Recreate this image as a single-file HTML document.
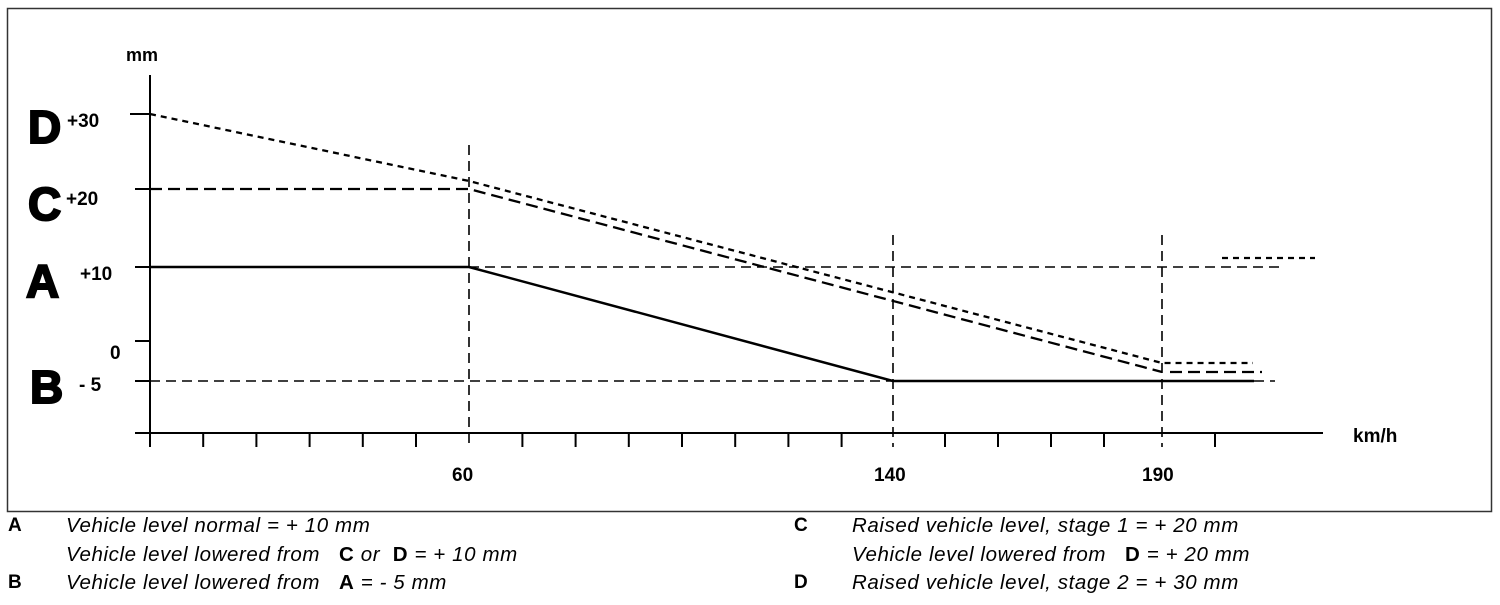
<!DOCTYPE html>
<html><head><meta charset="utf-8"><style>
body{margin:0;background:#fff;width:1500px;height:605px;overflow:hidden;font-family:"Liberation Sans",Arial,sans-serif;}
.lg{position:absolute;font-size:20.5px;letter-spacing:0.6px;color:#000;white-space:pre;}
.lg i{font-style:italic}
.k{position:absolute;font-size:19px;font-weight:bold;color:#000;}
</style></head><body>
<svg width="1500" height="605" style="position:absolute;left:0;top:0" font-family="Liberation Sans, Arial, sans-serif">
<rect x="7.5" y="8.5" width="1484" height="503" fill="none" stroke="#333" stroke-width="1.5"/>
<g stroke="#000" stroke-width="2" fill="none">
<line x1="150" y1="75" x2="150" y2="447"/>
<line x1="135" y1="433" x2="1323" y2="433"/>
<line x1="130" y1="114" x2="150" y2="114"/>
<line x1="135" y1="189" x2="150" y2="189"/>
<line x1="135" y1="267" x2="150" y2="267"/>
<line x1="135" y1="341" x2="150" y2="341"/>
<line x1="135" y1="381" x2="150" y2="381"/>
</g>
<g stroke="#000" stroke-width="2">
<line x1="203.2" y1="433" x2="203.2" y2="447"/><line x1="256.4" y1="433" x2="256.4" y2="447"/><line x1="309.6" y1="433" x2="309.6" y2="447"/><line x1="362.8" y1="433" x2="362.8" y2="447"/><line x1="416" y1="433" x2="416" y2="447"/><line x1="522.4" y1="433" x2="522.4" y2="447"/><line x1="575.6" y1="433" x2="575.6" y2="447"/><line x1="628.8" y1="433" x2="628.8" y2="447"/><line x1="682" y1="433" x2="682" y2="447"/><line x1="735.2" y1="433" x2="735.2" y2="447"/><line x1="788.4" y1="433" x2="788.4" y2="447"/><line x1="841.6" y1="433" x2="841.6" y2="447"/><line x1="945" y1="433" x2="945" y2="447"/><line x1="998" y1="433" x2="998" y2="447"/><line x1="1051" y1="433" x2="1051" y2="447"/><line x1="1104" y1="433" x2="1104" y2="447"/><line x1="1215" y1="433" x2="1215" y2="447"/>
</g>
<g stroke="#000" stroke-width="1.6" stroke-dasharray="10,6" fill="none">
<line x1="469" y1="145" x2="469" y2="447"/>
<line x1="893" y1="235" x2="893" y2="447"/>
<line x1="1162" y1="235" x2="1162" y2="447"/>
<line x1="469" y1="267" x2="1283" y2="267"/>
<line x1="150" y1="381" x2="1275" y2="381"/>
</g>
<polyline points="150,267 469,267 893,381 1254,381" fill="none" stroke="#000" stroke-width="2.5"/>
<polyline points="150,189 469,189 1162,372" fill="none" stroke="#000" stroke-width="2.3" stroke-dasharray="12,6"/>
<line x1="1170" y1="372" x2="1262" y2="372" stroke="#000" stroke-width="2.3" stroke-dasharray="12,6"/>
<polyline points="150,114 469,181 1162,363 1253,363" fill="none" stroke="#000" stroke-width="2.3" stroke-dasharray="6,5"/>
<line x1="1222" y1="258" x2="1315" y2="258" stroke="#000" stroke-width="2.3" stroke-dasharray="6,5"/>
<g font-weight="bold" fill="#000">
<text x="126" y="61" font-size="18">mm</text>
<g font-size="46" stroke="#000" stroke-width="2">
<text x="28" y="143">D</text>
<text x="28" y="220">C</text>
<text x="26" y="297">A</text>
<text x="30" y="403">B</text>
</g>
<text x="67" y="127" font-size="19">+30</text>
<text x="66" y="205" font-size="19">+20</text>
<text x="80" y="280" font-size="19">+10</text>
<text x="110" y="359" font-size="19">0</text>
<text x="79" y="391" font-size="19">-  5</text>
<text x="452" y="481" font-size="19">60</text>
<text x="874" y="481" font-size="19">140</text>
<text x="1142" y="481" font-size="19">190</text>
<text x="1353" y="442" font-size="19">km/h</text>
</g>
</svg>
<div class="k" style="left:8px;top:515px">A</div>
<div class="lg" style="left:66px;top:514px"><i>Vehicle level normal = + 10 mm</i></div>
<div class="lg" style="left:66px;top:543px"><i>Vehicle level lowered from   </i><b>C</b><i> or  </i><b>D</b> <i>= + 10 mm</i></div>
<div class="k" style="left:8px;top:572px">B</div>
<div class="lg" style="left:66px;top:571px"><i>Vehicle level lowered from   </i><b>A</b> <i>= - 5 mm</i></div>
<div class="k" style="left:794px;top:515px">C</div>
<div class="lg" style="left:852px;top:514px"><i>Raised vehicle level, stage 1 = + 20 mm</i></div>
<div class="lg" style="left:852px;top:543px"><i>Vehicle level lowered from   </i><b>D</b> <i>= + 20 mm</i></div>
<div class="k" style="left:794px;top:572px">D</div>
<div class="lg" style="left:852px;top:571px"><i>Raised vehicle level, stage 2 = + 30 mm</i></div>
</body></html>
